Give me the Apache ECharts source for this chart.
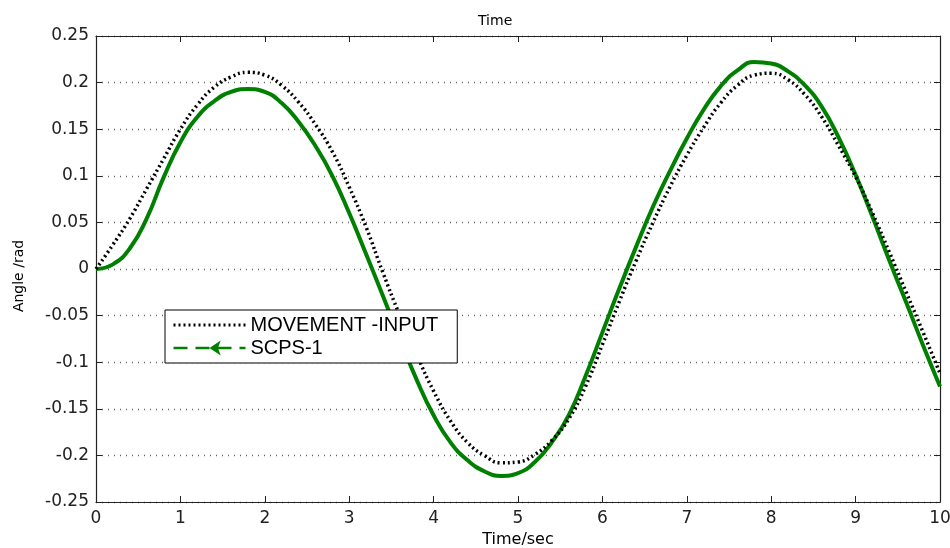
<!DOCTYPE html>
<html>
<head>
<meta charset="utf-8">
<script src="https://cdn.jsdelivr.net/npm/echarts@6/dist/echarts.min.js"></script>
<style>html,body{margin:0;padding:0;background:#fff;}#c{width:950px;height:548px;}</style>
</head>
<body>
<div id="c"></div>
<script>
var times = [0,0.2,0.4,0.6,0.8,1.0,1.2,1.4,1.6,1.8,2.0,2.2,2.4,2.6,2.8,3.0,3.2,3.4,3.6,3.8,4.0,4.2,4.4,4.6,4.8,5.0,5.2,5.4,5.6,5.8,6.0,6.2,6.4,6.6,6.8,7.0,7.2,7.4,7.6,7.8,8.0,8.2,8.4,8.6,8.8,9.0,9.2,9.4,9.6,9.8,10.0];
var movementInput = [0,0.026,0.054,0.086,0.118,0.150,0.176,0.195,0.206,0.211,0.208,0.197,0.179,0.155,0.126,0.088,0.045,-0.004,-0.05,-0.092,-0.131,-0.163,-0.186,-0.2,-0.208,-0.207,-0.199,-0.184,-0.161,-0.126,-0.081,-0.035,0.009,0.05,0.088,0.122,0.152,0.178,0.197,0.208,0.21,0.203,0.187,0.163,0.132,0.099,0.06,0.018,-0.025,-0.068,-0.112];
var scps1 = [0,0.005,0.022,0.054,0.098,0.136,0.163,0.18,0.19,0.193,0.19,0.178,0.158,0.132,0.1,0.06,0.016,-0.029,-0.075,-0.119,-0.157,-0.186,-0.205,-0.217,-0.222,-0.219,-0.207,-0.186,-0.157,-0.115,-0.068,-0.021,0.024,0.067,0.105,0.14,0.171,0.196,0.213,0.2222,0.2205,0.212,0.197,0.174,0.141,0.101,0.056,0.009,-0.036,-0.082,-0.126];
var seriesNames = ['MOVEMENT -INPUT', 'SCPS-1'];

function pairs(vals){ return times.map(function(t,i){ return [t, vals[i]]; }); }

var tickFont = 'DejaVu Sans, sans-serif';
var textFont = 'Liberation Sans, Arial, sans-serif';
var chart = echarts.init(document.getElementById('c'), null, {renderer:'canvas'});
chart.setOption({
  animation: false,
  backgroundColor: '#fff',
  title: {text: 'Time', left: 473, top: 9, textStyle: {fontFamily: tickFont, fontSize: 14, fontWeight: 'normal', color: '#000'}},
  grid: {left: 96, right: 10, top: 36, bottom: 46, outerBoundsMode: 'none', containLabel: false},
  legend: {
    orient: 'vertical', left: 165, top: 310,
    backgroundColor: '#fff', borderColor: '#000', borderWidth: 1,
    padding: [5, 19, 5, 7], itemGap: 3, itemWidth: 72, itemHeight: 14,
    textStyle: {fontFamily: textFont, fontSize: 20, color: '#000'},
    data: [
      {name: seriesNames[0], lineStyle: {color: '#000', width: 3, type: [2, 3]}, itemStyle: {color: 'rgba(0,0,0,0)', borderWidth: 0, opacity: 0}},
      {name: seriesNames[1], lineStyle: {color: '#008000', width: 2.5, type: [14, 8]}, itemStyle: {color: '#008000'}}
    ]
  },
  xAxis: [
    {type: 'value', min: 0, max: 10, interval: 1, position: 'bottom',
     name: 'Time/sec', nameLocation: 'middle', nameGap: 28,
     nameTextStyle: {fontFamily: tickFont, fontSize: 16, color: '#000'},
     axisLine: {show: true, onZero: false, lineStyle: {color: '#222', width: 1.2}},
     axisTick: {show: true, inside: true, length: 6, lineStyle: {color: '#222'}},
     axisLabel: {fontFamily: tickFont, fontSize: 17, color: '#222', margin: 8},
     splitLine: {show: false}},
    {type: 'value', min: 0, max: 10, interval: 1, position: 'top',
     axisLine: {show: true, onZero: false, lineStyle: {color: '#222', width: 1.2}},
     axisTick: {show: true, inside: true, length: 6, lineStyle: {color: '#222'}},
     axisLabel: {show: false}, splitLine: {show: false}}
  ],
  yAxis: [
    {type: 'value', min: -0.25, max: 0.25, interval: 0.05, position: 'left',
     name: 'Angle /rad', nameLocation: 'middle', nameGap: 70, nameRotate: 90,
     nameTextStyle: {fontFamily: tickFont, fontSize: 14, color: '#000', padding: [0, 14, 0, 0]},
     axisLine: {show: true, onZero: false, lineStyle: {color: '#222', width: 1.2}},
     axisTick: {show: true, inside: true, length: 6, lineStyle: {color: '#222'}},
     axisLabel: {fontFamily: tickFont, fontSize: 17, color: '#222', margin: 7,
       formatter: function(v){ return String(Math.round(v*100)/100); }},
     splitLine: {show: true, lineStyle: {color: '#666', type: [1, 5], width: 1.3}}},
    {type: 'value', min: -0.25, max: 0.25, interval: 0.05, position: 'right',
     axisLine: {show: true, onZero: false, lineStyle: {color: '#222', width: 1.2}},
     axisTick: {show: true, inside: true, length: 6, lineStyle: {color: '#222'}},
     axisLabel: {show: false}, splitLine: {show: false}}
  ],
  series: [
    {name: seriesNames[0], type: 'line', smooth: 0.5, showSymbol: false, symbol: 'none',
     data: pairs(movementInput), z: 3,
     lineStyle: {color: '#000', width: 3.5, type: [2, 3]}, itemStyle: {color: '#000'}},
    {name: seriesNames[1], type: 'line', smooth: 0.5, showSymbol: false, symbol: 'arrow', symbolSize: 7, symbolRotate: 90,
     data: pairs(scps1), z: 2,
     lineStyle: {color: '#008000', width: 4}, itemStyle: {color: '#008000'}}
  ]
});
</script>
</body>
</html>
